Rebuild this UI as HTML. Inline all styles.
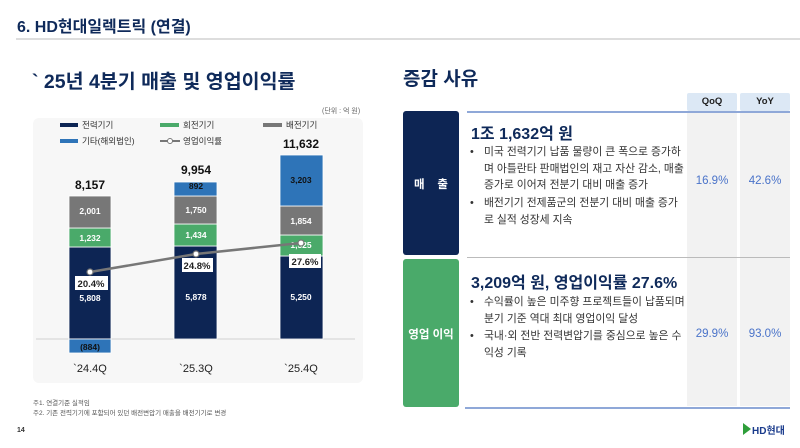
<!DOCTYPE html>
<html><head><meta charset="utf-8"><style>
*{margin:0;padding:0;box-sizing:border-box}
body{width:800px;height:448px;background:#fff;position:relative;overflow:hidden;font-family:"Liberation Sans","Noto Sans CJK KR",sans-serif;color:#222}
.a{position:absolute;white-space:nowrap}
.b{position:absolute}
.navy{color:#0f2a5a}
.bul{position:absolute;left:484px;font-size:10.8px;color:#333;line-height:16.5px}
.bul span{position:absolute;left:-14px}
.val{position:absolute;width:50px;text-align:center;font-size:11.5px;color:#4a73c9}
</style></head><body>
<div class="a navy" style="left:17px;top:13px;font-size:16px;font-weight:bold">6. HD현대일렉트릭 (연결)</div>
<div class="b" style="left:16px;top:38px;width:784px;height:2px;background:#ddd"></div>
<div class="a navy" style="left:32px;top:65px;font-size:19.5px;font-weight:bold">` 25년 4분기 매출 및 영업이익률</div>
<div class="a navy" style="left:403px;top:64px;font-size:19px;font-weight:bold">증감 사유</div>
<div class="a" style="left:322px;top:106px;font-size:7px;color:#666">(단위 : 억 원)</div>

<div class="b" style="left:33px;top:118px;width:330px;height:265px;background:#f7f7f7;border-radius:6px"></div>
<svg class="b" style="left:0;top:0" width="400" height="400" font-family="Liberation Sans, Noto Sans CJK KR, sans-serif">
<rect x="60" y="123" width="18" height="4" fill="#0d2554"/><text x="82" y="128" font-size="8.5" fill="#333">전력기기</text>
<rect x="160" y="123" width="19" height="4" fill="#4aaa6a"/><text x="183" y="128" font-size="8.5" fill="#333">회전기기</text>
<rect x="263" y="123" width="19" height="4" fill="#777"/><text x="286" y="128" font-size="8.5" fill="#333">배전기기</text>
<rect x="60" y="139" width="18" height="4" fill="#2e74b8"/><text x="82" y="144" font-size="8.5" fill="#333">기타(해외법인)</text>
<line x1="160" y1="141" x2="180" y2="141" stroke="#777" stroke-width="2"/><circle cx="170" cy="141" r="2.5" fill="#fff" stroke="#777"/><text x="183" y="144" font-size="8.5" fill="#333">영업이익률</text>
<line x1="36" y1="339" x2="355" y2="339" stroke="#ddd" stroke-width="1.5"/>
<g stroke="#fff" stroke-width="0.8">
<rect x="69" y="247" width="42" height="92" fill="#0d2554"/>
<rect x="69" y="228" width="42" height="19" fill="#4aaa6a"/>
<rect x="69" y="196" width="42" height="32" fill="#777"/>
<rect x="69" y="339" width="42" height="14" fill="#2e74b8"/>
<rect x="174" y="246" width="43" height="93" fill="#0d2554"/>
<rect x="174" y="224" width="43" height="22" fill="#4aaa6a"/>
<rect x="174" y="196" width="43" height="28" fill="#777"/>
<rect x="174" y="182" width="43" height="14" fill="#2e74b8"/>
<rect x="280" y="256" width="43" height="83" fill="#0d2554"/>
<rect x="280" y="235" width="43" height="21" fill="#4aaa6a"/>
<rect x="280" y="206" width="43" height="29" fill="#777"/>
<rect x="280" y="155" width="43" height="51" fill="#2e74b8"/>
</g>
<g font-size="8.5" fill="#fff" text-anchor="middle" font-weight="bold">
<text x="90" y="214">2,001</text><text x="90" y="241">1,232</text><text x="90" y="301">5,808</text>
<text x="196" y="213">1,750</text><text x="196" y="238">1,434</text><text x="196" y="300">5,878</text>
<text x="301" y="224">1,854</text><text x="301" y="248">1,525</text><text x="301" y="300">5,250</text>
<text x="301" y="183" fill="#111">3,203</text><text x="196" y="189" fill="#111">892</text><text x="90" y="350" fill="#111">(884)</text>
</g>
<g font-size="12" font-weight="bold" fill="#111" text-anchor="middle">
<text x="90" y="189">8,157</text><text x="196" y="174">9,954</text><text x="301" y="148">11,632</text>
</g>
<polyline points="90,272 196,254 301,243" fill="none" stroke="#777" stroke-width="2.5"/>
<g fill="#fff" stroke="#777" stroke-width="1.2"><circle cx="90" cy="272" r="3"/><circle cx="196" cy="254" r="3"/><circle cx="301" cy="243" r="3"/></g>
<rect x="75" y="276" width="33" height="14" fill="#fff"/><rect x="182" y="258" width="31" height="14" fill="#fff"/><rect x="289" y="254" width="32" height="14" fill="#fff"/>
<g font-size="9.5" font-weight="bold" fill="#222" text-anchor="middle">
<text x="91" y="287">20.4%</text><text x="197" y="269">24.8%</text><text x="305" y="265">27.6%</text>
</g>
<g font-size="11" fill="#222" text-anchor="middle">
<text x="90" y="372">`24.4Q</text><text x="196" y="372">`25.3Q</text><text x="301" y="372">`25.4Q</text>
</g>
</svg>

<div class="a" style="left:33px;top:397px;font-size:6.5px;color:#555">주1. 연결기준 실적임</div>
<div class="a" style="left:33px;top:407px;font-size:6.5px;color:#555">주2. 기존 전력기기에 포함되어 있던 배전변압기 매출을 배전기기로 변경</div>
<div class="a" style="left:17px;top:427px;font-size:7px;font-weight:bold;color:#333">14</div>
<div class="b" style="left:743px;top:423px;width:0;height:0;border-top:6px solid transparent;border-bottom:6px solid transparent;border-left:8px solid #2e9e3a"></div>
<div class="a" style="left:752px;top:422px;font-size:10px;font-weight:bold;color:#1a3b8c">HD현대</div>

<div class="b" style="left:687px;top:93px;width:50px;height:18px;background:#dce8f5;border-radius:2px"></div>
<div class="b" style="left:740px;top:93px;width:50px;height:18px;background:#dce8f5;border-radius:2px"></div>
<div class="a" style="left:687px;top:96px;width:50px;text-align:center;font-size:9.5px;font-weight:bold">QoQ</div>
<div class="a" style="left:740px;top:96px;width:50px;text-align:center;font-size:9.5px;font-weight:bold">YoY</div>
<div class="b" style="left:687px;top:113px;width:50px;height:293px;background:#f2f2f2"></div>
<div class="b" style="left:740px;top:113px;width:50px;height:293px;background:#f2f2f2"></div>
<div class="b" style="left:467px;top:111px;width:323px;height:2px;background:#8fa8d8"></div>
<div class="b" style="left:467px;top:257px;width:323px;height:1px;background:#bbb"></div>
<div class="b" style="left:465px;top:407px;width:325px;height:2px;background:#8fa8d8"></div>
<div class="b" style="left:403px;top:111px;width:56px;height:144px;background:#0d2554;border-radius:3px"></div>
<div class="b" style="left:403px;top:259px;width:56px;height:148px;background:#4aaa6a;border-radius:3px"></div>
<div class="a" style="left:403px;top:176px;width:56px;text-align:center;font-size:11.5px;font-weight:bold;color:#fff">매&nbsp;&nbsp;&nbsp;&nbsp;출</div>
<div class="a" style="left:403px;top:326px;width:56px;text-align:center;font-size:11.5px;font-weight:bold;color:#fff">영업 이익</div>

<div class="a navy" style="left:471px;top:120px;font-size:16px;font-weight:bold">1조 1,632억 원</div>
<div class="bul" style="top:144px"><span>•</span>미국 전력기기 납품 물량이 큰 폭으로 증가하<br>며 아틀란타 판매법인의 재고 자산 감소, 매출<br>증가로 이어져 전분기 대비 매출 증가</div>
<div class="bul" style="top:195px"><span>•</span>배전기기 전제품군의 전분기 대비 매출 증가<br>로 실적 성장세 지속</div>
<div class="val" style="left:687px;top:175px">16.9%</div>
<div class="val" style="left:740px;top:175px">42.6%</div>

<div class="a navy" style="left:471px;top:269px;font-size:16px;font-weight:bold">3,209억 원, 영업이익률 27.6%</div>
<div class="bul" style="top:294px"><span>•</span>수익률이 높은 미주향 프로젝트들이 납품되며<br>분기 기준 역대 최대 영업이익 달성</div>
<div class="bul" style="top:328px"><span>•</span>국내·외 전반 전력변압기를 중심으로 높은 수<br>익성 기록</div>
<div class="val" style="left:687px;top:328px">29.9%</div>
<div class="val" style="left:740px;top:328px">93.0%</div>
</body></html>
